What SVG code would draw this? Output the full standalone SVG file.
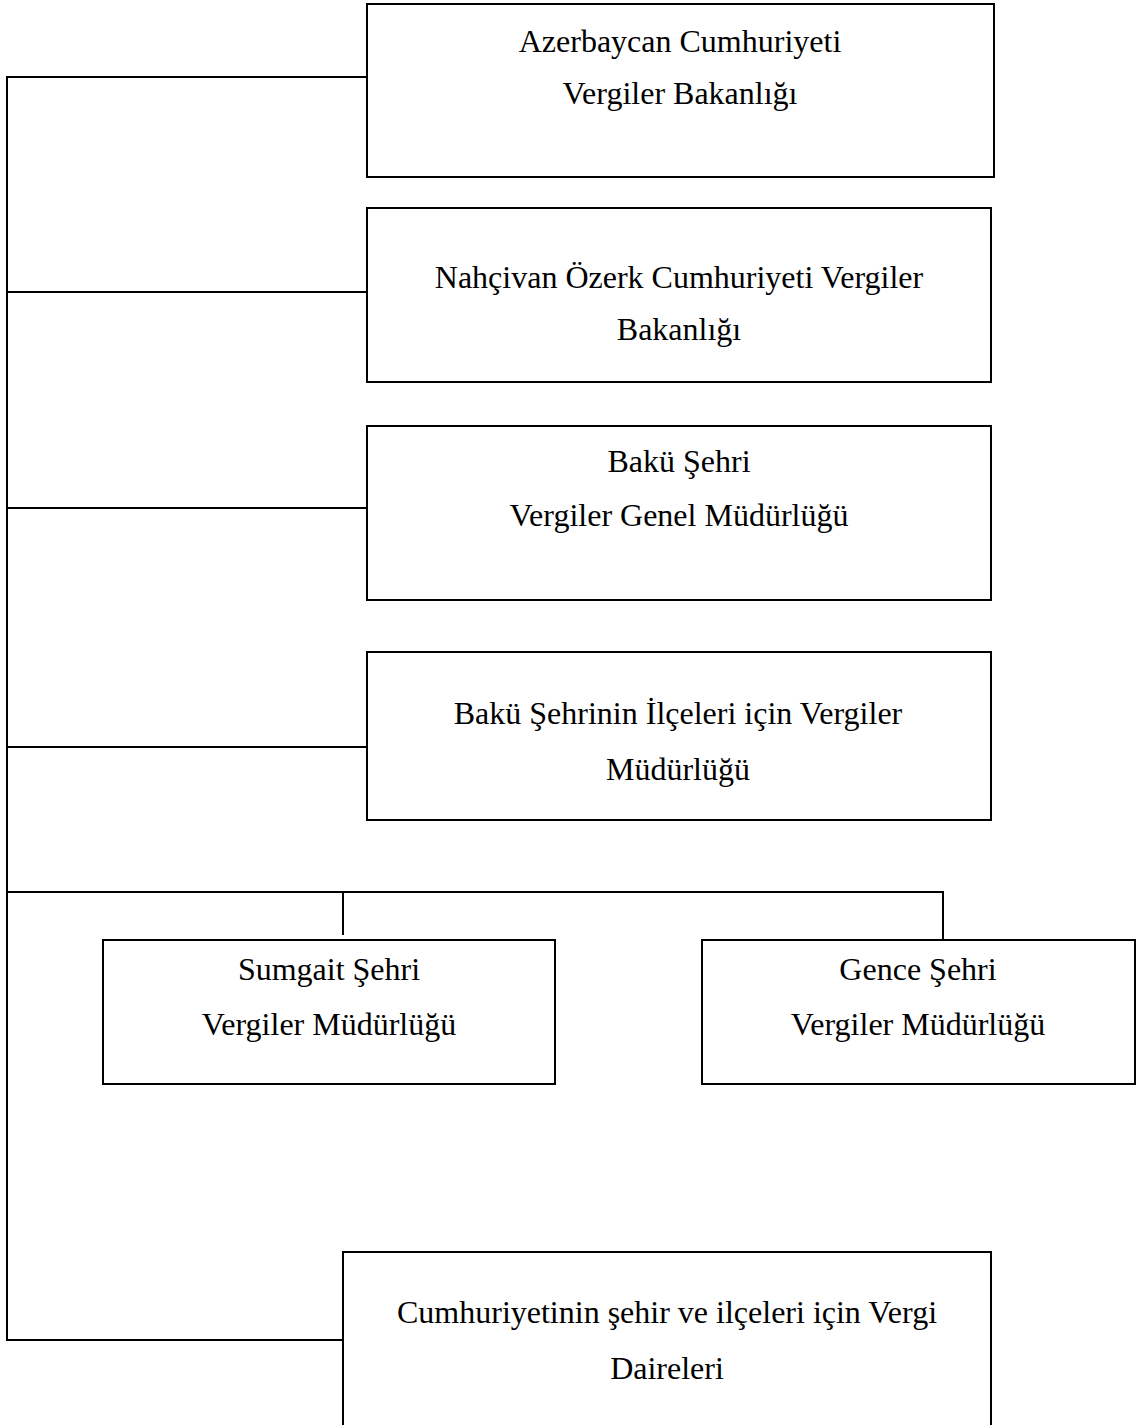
<svg xmlns="http://www.w3.org/2000/svg" width="1137" height="1425" viewBox="0 0 1137 1425">
<style>
.box{fill:#fff;stroke:#000;stroke-width:2}
.ln{fill:none;stroke:#000;stroke-width:2}
text{font-family:"Liberation Serif","Times New Roman",serif;font-size:32px;fill:#000;text-anchor:middle}
</style>
<rect width="1137" height="1425" fill="#fff"/>
<g id="connectors">
<polyline class="ln" points="367,77 7,77 7,1340 343,1340"/>
<line class="ln" x1="7" y1="292" x2="367" y2="292"/>
<line class="ln" x1="7" y1="508" x2="367" y2="508"/>
<line class="ln" x1="7" y1="747" x2="367" y2="747"/>
<polyline class="ln" points="7,892 943,892 943,939"/>
<line class="ln" x1="343" y1="892" x2="343" y2="935"/>
</g>
<g id="n1">
<rect class="box" x="367" y="4" width="627" height="173"/>
<text x="680" y="52">Azerbaycan Cumhuriyeti</text>
<text x="680" y="104">Vergiler Bakanlığı</text>
</g>
<g id="n2">
<rect class="box" x="367" y="208" width="624" height="174"/>
<text x="679" y="288">Nahçivan Özerk Cumhuriyeti Vergiler</text>
<text x="679" y="340">Bakanlığı</text>
</g>
<g id="n3">
<rect class="box" x="367" y="426" width="624" height="174"/>
<text x="679" y="472">Bakü Şehri</text>
<text x="679" y="526">Vergiler Genel Müdürlüğü</text>
</g>
<g id="n4">
<rect class="box" x="367" y="652" width="624" height="168"/>
<text x="678" y="724">Bakü Şehrinin İlçeleri için Vergiler</text>
<text x="678" y="780">Müdürlüğü</text>
</g>
<g id="n5">
<rect class="box" x="103" y="940" width="452" height="144"/>
<text x="329" y="980">Sumgait Şehri</text>
<text x="329" y="1035">Vergiler Müdürlüğü</text>
</g>
<g id="n6">
<rect class="box" x="702" y="940" width="433" height="144"/>
<text x="918" y="980">Gence Şehri</text>
<text x="918" y="1035">Vergiler Müdürlüğü</text>
</g>
<g id="n7">
<rect class="box" x="343" y="1252" width="648" height="190"/>
<text x="667" y="1323">Cumhuriyetinin şehir ve ilçeleri için Vergi</text>
<text x="667" y="1379">Daireleri</text>
</g>
</svg>
